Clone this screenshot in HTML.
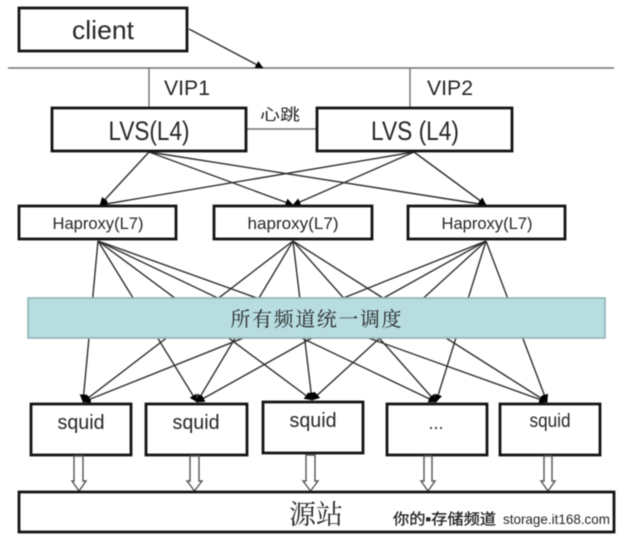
<!DOCTYPE html>
<html>
<head>
<meta charset="utf-8">
<style>
html,body{margin:0;padding:0;background:#fff;}
svg{display:block;filter:blur(0.4px);}
text{font-family:"Liberation Sans","Noto Sans CJK SC",sans-serif;fill:#262626;}
.box{fill:#fff;stroke:#141414;stroke-width:2.8;}
.l{stroke:#2e2e2e;stroke-width:1.4;fill:none;}
.g{stroke:#707070;stroke-width:1.4;fill:none;}
.b{fill:#fff;stroke:#555;stroke-width:1.4;}
</style>
</head>
<body>
<svg width="635" height="545" viewBox="0 0 635 545" xmlns="http://www.w3.org/2000/svg">
<defs>
<marker id="a" markerWidth="10" markerHeight="10" refX="7.5" refY="4.5" orient="auto" markerUnits="userSpaceOnUse">
<path d="M0 0.500L8 4.500L0 8.500Z" fill="#000"/>
</marker>
</defs>
<rect width="635" height="545" fill="#fff"/>

<!-- top network -->
<line class="g" x1="8" y1="68" x2="614" y2="68"/>
<line class="g" x1="149" y1="68" x2="149" y2="108"/>
<line class="g" x1="410" y1="68" x2="410" y2="108"/>
<line class="g" x1="246" y1="129" x2="317" y2="129"/>
<line class="l" x1="189" y1="29" x2="263" y2="68" marker-end="url(#a)"/>

<!-- LVS to haproxy -->
<line class="l" x1="149" y1="152" x2="100" y2="205" marker-end="url(#a)"/>
<line class="l" x1="149" y1="152" x2="293" y2="205" marker-end="url(#a)"/>
<line class="l" x1="149" y1="152" x2="486" y2="205" marker-end="url(#a)"/>
<line class="l" x1="414" y1="152" x2="100" y2="205" marker-end="url(#a)"/>
<line class="l" x1="414" y1="152" x2="293" y2="205" marker-end="url(#a)"/>
<line class="l" x1="414" y1="152" x2="486" y2="205" marker-end="url(#a)"/>

<!-- haproxy to squid -->
<line class="l" x1="98" y1="241" x2="83" y2="402" marker-end="url(#a)"/>
<line class="l" x1="98" y1="241" x2="197" y2="402" marker-end="url(#a)"/>
<line class="l" x1="98" y1="241" x2="312" y2="400" marker-end="url(#a)"/>
<line class="l" x1="98" y1="241" x2="436" y2="402" marker-end="url(#a)"/>
<line class="l" x1="98" y1="241" x2="547" y2="402" marker-end="url(#a)"/>
<line class="l" x1="293" y1="241" x2="83" y2="402" marker-end="url(#a)"/>
<line class="l" x1="293" y1="241" x2="197" y2="402" marker-end="url(#a)"/>
<line class="l" x1="293" y1="241" x2="312" y2="400" marker-end="url(#a)"/>
<line class="l" x1="293" y1="241" x2="436" y2="402" marker-end="url(#a)"/>
<line class="l" x1="293" y1="241" x2="547" y2="402" marker-end="url(#a)"/>
<line class="l" x1="486" y1="241" x2="83" y2="402" marker-end="url(#a)"/>
<line class="l" x1="486" y1="241" x2="197" y2="402" marker-end="url(#a)"/>
<line class="l" x1="486" y1="241" x2="312" y2="400" marker-end="url(#a)"/>
<line class="l" x1="486" y1="241" x2="436" y2="402" marker-end="url(#a)"/>
<line class="l" x1="486" y1="241" x2="547" y2="402" marker-end="url(#a)"/>

<!-- boxes -->
<rect class="box" x="19" y="8" width="168" height="43"/>
<rect class="box" x="52" y="108" width="194" height="43"/>
<rect class="box" x="317" y="108" width="195" height="43"/>
<rect class="box" x="19" y="206" width="157" height="33"/>
<rect class="box" x="214" y="206" width="158" height="33"/>
<rect class="box" x="408" y="206" width="157" height="33"/>

<!-- band -->
<rect x="28" y="298" width="577" height="40" fill="#b7dde1" stroke="#8fb3b7" stroke-width="1.6"/>

<!-- squids -->
<rect class="box" x="31" y="404" width="100" height="51"/>
<rect class="box" x="146" y="404" width="101" height="51"/>
<rect class="box" x="263" y="402" width="100" height="51"/>
<rect class="box" x="387" y="404" width="100" height="51"/>
<rect class="box" x="500" y="404" width="100" height="51"/>

<!-- block arrows -->
<path class="b" d="M74 456H83V481H86L79 491L72 481H74Z"/>
<path class="b" d="M190 456H199V481H202L194.500 491L187 481H190Z"/>
<path class="b" d="M306 455H315V481H318L310.500 491L303 481H306Z"/>
<path class="b" d="M424 456H432V481H435L428 491L421 481H424Z"/>
<path class="b" d="M544 456H552V481H555L548 491L541 481H544Z"/>

<!-- source box -->
<rect class="box" x="19" y="492" width="595" height="40"/>

<!-- labels -->
<text x="103" y="39" font-size="26" text-anchor="middle" textLength="62" lengthAdjust="spacingAndGlyphs">client</text>
<text x="164" y="95" font-size="21" textLength="46" lengthAdjust="spacingAndGlyphs">VIP1</text>
<text x="427" y="95" font-size="21" textLength="46" lengthAdjust="spacingAndGlyphs">VIP2</text>
<text x="260" y="120" font-size="16" textLength="40" lengthAdjust="spacingAndGlyphs" fill="#444">心跳</text>
<text x="149" y="140" font-size="27" text-anchor="middle" textLength="81" lengthAdjust="spacingAndGlyphs">LVS(L4)</text>
<text x="415" y="140" font-size="27" text-anchor="middle" textLength="88" lengthAdjust="spacingAndGlyphs">LVS (L4)</text>
<text x="98" y="229" font-size="17" text-anchor="middle" textLength="91" lengthAdjust="spacingAndGlyphs">Haproxy(L7)</text>
<text x="293" y="229" font-size="17" text-anchor="middle" textLength="91" lengthAdjust="spacingAndGlyphs">haproxy(L7)</text>
<text x="487" y="229" font-size="17" text-anchor="middle" textLength="91" lengthAdjust="spacingAndGlyphs">Haproxy(L7)</text>
<text x="316" y="326" font-size="20" text-anchor="middle" textLength="171" style="font-family:'Noto Serif CJK SC','Liberation Serif',serif" fill="#3a4a4c">所有频道统一调度</text>
<text x="81" y="429" font-size="20" text-anchor="middle" textLength="47" lengthAdjust="spacingAndGlyphs">squid</text>
<text x="196" y="429" font-size="20" text-anchor="middle" textLength="47" lengthAdjust="spacingAndGlyphs">squid</text>
<text x="313" y="427" font-size="20" text-anchor="middle" textLength="47" lengthAdjust="spacingAndGlyphs">squid</text>
<text x="436" y="429" font-size="18" text-anchor="middle">...</text>
<text x="550" y="427" font-size="19" text-anchor="middle" textLength="41" lengthAdjust="spacingAndGlyphs">squid</text>
<text x="316" y="524" font-size="27" text-anchor="middle" style="font-family:'Noto Serif CJK SC','Liberation Serif',serif" fill="#444">源站</text>
<text x="393" y="524" font-size="15" fill="#000" stroke="#000" stroke-width="0.25" textLength="103" lengthAdjust="spacingAndGlyphs">你的▪存储频道</text>
<text x="503" y="524" font-size="14" fill="#000" textLength="107" lengthAdjust="spacingAndGlyphs">storage.it168.com</text>
</svg>
</body>
</html>
